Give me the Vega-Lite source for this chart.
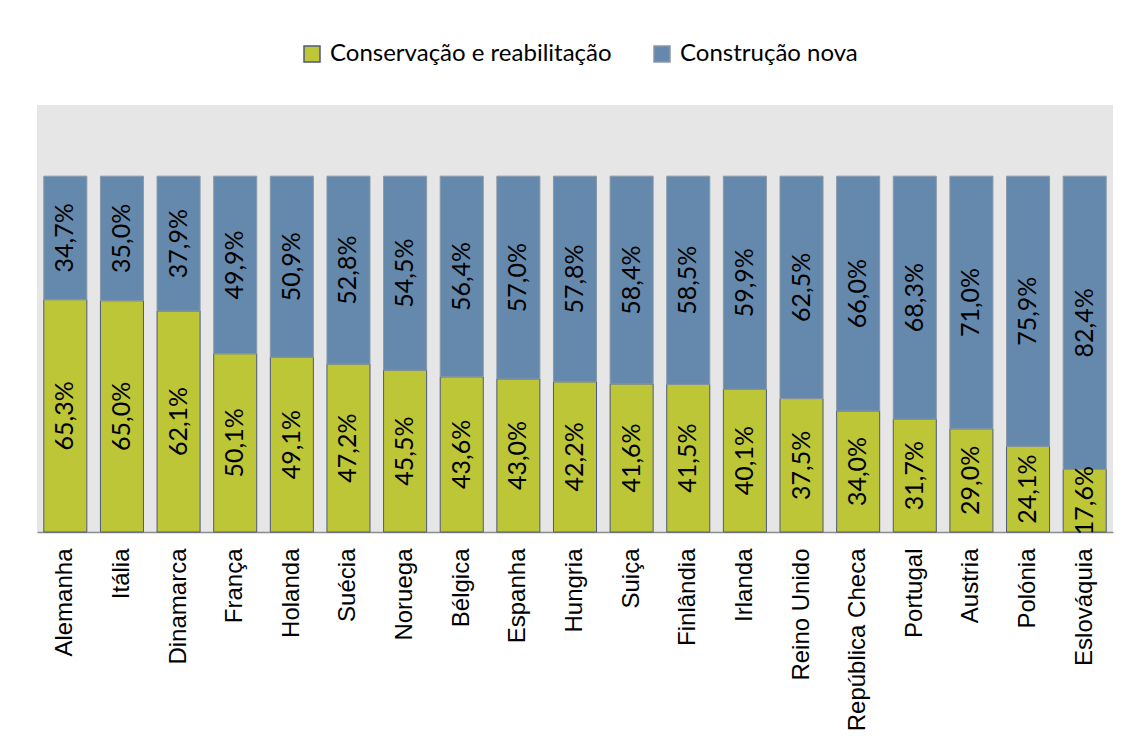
{
  "$schema": "https://vega.github.io/schema/vega-lite/v6.json",
  "autosize": {"type": "none"},
  "width": 1076,
  "height": 427,
  "padding": {"left": 37, "top": 105, "right": 18, "bottom": 204},
  "background": "white",
  "config": {
    "view": {"fill": "#e6e6e6", "stroke": null},
    "font": "Lato",
    "locale": {"number": {"decimal": ",", "thousands": ".", "grouping": [3], "currency": ["", " €"]}}
  },
  "data": {"values": [
    {"pais": "Alemanha", "tipo": "Conservação e reabilitação", "valor": 0.653},
    {"pais": "Alemanha", "tipo": "Construção nova", "valor": 0.347},
    {"pais": "Itália", "tipo": "Conservação e reabilitação", "valor": 0.650},
    {"pais": "Itália", "tipo": "Construção nova", "valor": 0.350},
    {"pais": "Dinamarca", "tipo": "Conservação e reabilitação", "valor": 0.621},
    {"pais": "Dinamarca", "tipo": "Construção nova", "valor": 0.379},
    {"pais": "França", "tipo": "Conservação e reabilitação", "valor": 0.501},
    {"pais": "França", "tipo": "Construção nova", "valor": 0.499},
    {"pais": "Holanda", "tipo": "Conservação e reabilitação", "valor": 0.491},
    {"pais": "Holanda", "tipo": "Construção nova", "valor": 0.509},
    {"pais": "Suécia", "tipo": "Conservação e reabilitação", "valor": 0.472},
    {"pais": "Suécia", "tipo": "Construção nova", "valor": 0.528},
    {"pais": "Noruega", "tipo": "Conservação e reabilitação", "valor": 0.455},
    {"pais": "Noruega", "tipo": "Construção nova", "valor": 0.545},
    {"pais": "Bélgica", "tipo": "Conservação e reabilitação", "valor": 0.436},
    {"pais": "Bélgica", "tipo": "Construção nova", "valor": 0.564},
    {"pais": "Espanha", "tipo": "Conservação e reabilitação", "valor": 0.430},
    {"pais": "Espanha", "tipo": "Construção nova", "valor": 0.570},
    {"pais": "Hungria", "tipo": "Conservação e reabilitação", "valor": 0.422},
    {"pais": "Hungria", "tipo": "Construção nova", "valor": 0.578},
    {"pais": "Suiça", "tipo": "Conservação e reabilitação", "valor": 0.416},
    {"pais": "Suiça", "tipo": "Construção nova", "valor": 0.584},
    {"pais": "Finlândia", "tipo": "Conservação e reabilitação", "valor": 0.415},
    {"pais": "Finlândia", "tipo": "Construção nova", "valor": 0.585},
    {"pais": "Irlanda", "tipo": "Conservação e reabilitação", "valor": 0.401},
    {"pais": "Irlanda", "tipo": "Construção nova", "valor": 0.599},
    {"pais": "Reino Unido", "tipo": "Conservação e reabilitação", "valor": 0.375},
    {"pais": "Reino Unido", "tipo": "Construção nova", "valor": 0.625},
    {"pais": "República Checa", "tipo": "Conservação e reabilitação", "valor": 0.340},
    {"pais": "República Checa", "tipo": "Construção nova", "valor": 0.660},
    {"pais": "Portugal", "tipo": "Conservação e reabilitação", "valor": 0.317},
    {"pais": "Portugal", "tipo": "Construção nova", "valor": 0.683},
    {"pais": "Austria", "tipo": "Conservação e reabilitação", "valor": 0.290},
    {"pais": "Austria", "tipo": "Construção nova", "valor": 0.710},
    {"pais": "Polónia", "tipo": "Conservação e reabilitação", "valor": 0.241},
    {"pais": "Polónia", "tipo": "Construção nova", "valor": 0.759},
    {"pais": "Eslováquia", "tipo": "Conservação e reabilitação", "valor": 0.176},
    {"pais": "Eslováquia", "tipo": "Construção nova", "valor": 0.824}
  ]},
  "encoding": {
    "x": {
      "field": "pais", "type": "nominal", "sort": null,
      "scale": {"paddingInner": 0.24, "paddingOuter": 0.12},
      "axis": {
        "title": null, "labelAngle": 270, "labelFontSize": 24, "labelColor": "#000000",
        "labelPadding": 16, "ticks": false, "domainColor": "#8c8c8c", "domainWidth": 1.5,
        "grid": false, "labelFont": "Liberation Sans", "labelLimit": 0
      }
    },
    "y": {
      "field": "valor", "type": "quantitative", "stack": "zero",
      "scale": {"domain": [0, 1.2], "nice": false},
      "axis": null
    },
    "order": {"field": "tipo", "sort": "ascending"}
  },
  "layer": [
    {
      "mark": {"type": "bar", "strokeWidth": 1},
      "encoding": {
        "color": {
          "field": "tipo", "type": "nominal",
          "scale": {"domain": ["Conservação e reabilitação", "Construção nova"], "range": ["#bdc637", "#6489ac"]},
          "legend": {
            "title": null, "orient": "none", "direction": "horizontal",
            "legendX": 263, "legendY": -63,
            "labelFontSize": 24, "labelColor": "#000000", "labelFont": "Lato", "labelLimit": 0,
            "symbolType": "square", "symbolSize": 256, "symbolStrokeWidth": 1.5,
            "columnPadding": 38, "labelOffset": 6
          }
        },
        "stroke": {
          "field": "tipo", "type": "nominal",
          "scale": {"domain": ["Conservação e reabilitação", "Construção nova"], "range": ["#4f587a", "#8a98a8"]},
          "legend": {
            "title": null, "orient": "none", "direction": "horizontal",
            "legendX": 263, "legendY": -63,
            "labelFontSize": 24, "labelColor": "#000000", "labelFont": "Lato", "labelLimit": 0,
            "symbolType": "square", "symbolSize": 256, "symbolStrokeWidth": 1.5,
            "columnPadding": 38, "labelOffset": 6
          }
        }
      }
    },
    {
      "mark": {"type": "text", "angle": 270, "align": "center", "baseline": "middle", "fontSize": 25, "color": "#000000", "font": "Lato"},
      "encoding": {
        "y": {"field": "valor", "type": "quantitative", "stack": "zero", "bandPosition": 0.5},
        "text": {"field": "valor", "type": "quantitative", "format": ".1%"},
        "detail": {"field": "tipo", "type": "nominal"}
      }
    }
  ]
}
